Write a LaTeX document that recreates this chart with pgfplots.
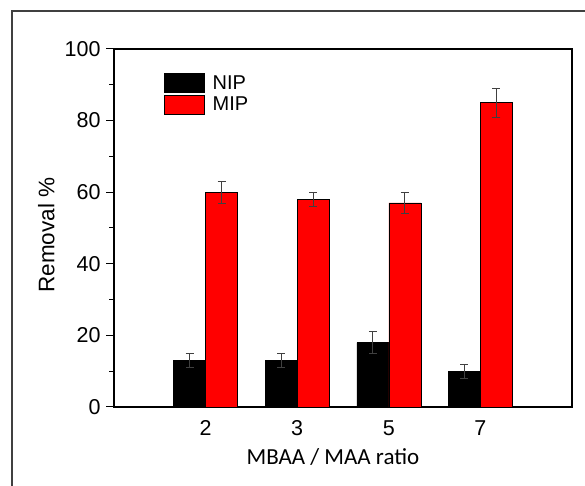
\documentclass[border=0pt]{standalone}
\usepackage{fontspec}
\setmainfont{Liberation Sans}
\newfontfamily\calibri{Carlito}
\usepackage{pgfplots}
\pgfplotsset{compat=1.18}
\pgfplotsset{boxlegend/.style={legend image code/.code={\draw[##1] (0pt,-9.5pt) rectangle (40pt,9.5pt); \path (46pt,0pt);}}}
\begin{document}
\begin{tikzpicture}[x=1pt,y=1pt]
\useasboundingbox (0,0) rectangle (585,486);
\draw[line width=1.4pt, black!75] (12,-5) -- (12,475) -- (590,475);
\begin{axis}[
  at={(114pt,79pt)}, anchor=south west,
  scale only axis, width=458pt, height=358pt,
  ybar=0pt, bar width=32pt,
  xmin=-1, xmax=4, ymin=0, ymax=100,
  xtick={0,1,2,3}, xticklabels={2,3,5,7},
  x tick style={draw=none},
  ytick={0,20,40,60,80,100}, minor y tick num=1,
  ytick pos=left, tick align=outside,
  major tick length=8pt, minor tick length=5pt,
  y tick style={line width=1pt, black},
  axis line style={line width=1.5pt},
  /pgf/number format/assume math mode=true,
  tick label style={font=\fontsize{21.5}{24}\selectfont},
  yticklabel style={xshift=-2pt},
  xticklabel style={yshift=-2pt},
  xlabel={\calibri MBAA / MAA ratio},
  ylabel={Removal \%},
  xlabel style={font=\fontsize{23}{24}\selectfont, at={(axis description cs:0.478,-0.14)}, anchor=center},
  ylabel style={font=\fontsize{22.5}{24}\selectfont, at={(axis description cs:-0.148,0.48)}, anchor=center, rotate=0},
  legend style={at={(0.109,0.933)}, anchor=north west, draw=none, fill=none,
    inner sep=0pt, row sep=2pt, font=\fontsize{20}{20}\selectfont},
  legend cell align=left,
  error bars/y dir=both, error bars/y explicit,
  error bars/error bar style={line width=0.7pt, black!75},
  error bars/error mark options={rotate=90, mark size=4pt, line width=0.7pt, black!75},
]
\addplot[fill=black, draw=black, line width=0.6pt, boxlegend]
  coordinates {(0,13) +- (0,2) (1,13) +- (0,2) (2,18) +- (0,3) (3,10) +- (0,2)};
\addplot[fill=red, draw=black, line width=0.6pt, boxlegend]
  coordinates {(0,60) +- (0,3) (1,58) +- (0,2) (2,57) +- (0,3) (3,85) +- (0,4)};
\legend{NIP,MIP}
\end{axis}
\end{tikzpicture}
\end{document}
